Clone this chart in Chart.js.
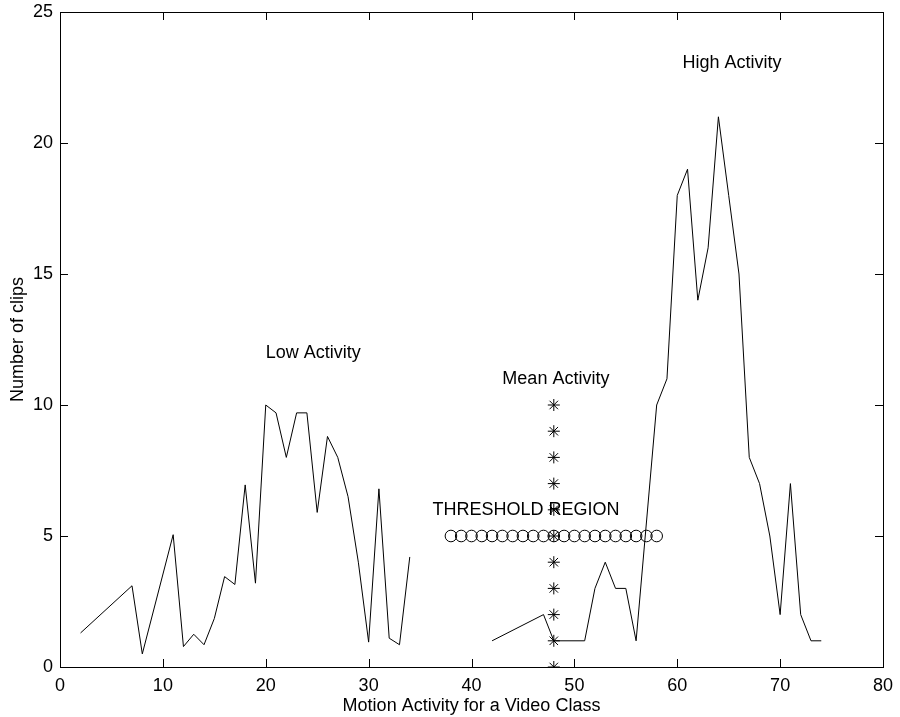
<!DOCTYPE html>
<html>
<head>
<meta charset="utf-8">
<script src="https://cdn.jsdelivr.net/npm/chart.js@4/dist/chart.umd.min.js"></script>
<style>
  html, body { margin: 0; padding: 0; background: #fff; }
  #grafico { display: block; }
</style>
</head>
<body>
<canvas id="grafico" width="900" height="717"></canvas>
<script>
// dados
const lowX = [2, 7, 8, 11, 12, 13, 14, 15, 16, 17, 18, 19, 20, 21, 22, 23, 24, 25, 26, 27, 28, 29, 30, 31, 32, 33, 34];
const lowY = [1.3, 3.1, 0.5, 5.05, 0.78, 1.25, 0.85, 1.85, 3.45, 3.15, 6.95, 3.2, 10, 9.7, 8, 9.7, 9.7, 5.9, 8.8, 8, 6.5, 4, 0.95, 6.8, 1.1, 0.85, 4.2];

const highX = [42, 47, 48, 51, 52, 53, 54, 55, 56, 58, 59, 60, 61, 62, 63, 64, 65, 66, 67, 68, 69, 70, 71, 72, 73, 74];
const highY = [1, 2, 1, 1, 3, 4, 3, 3, 1, 10, 11, 18, 19, 14, 16, 21, 18, 15, 8, 7, 5, 2, 7, 2, 1, 1];

const meanX = [48, 48, 48, 48, 48, 48, 48, 48, 48, 48, 48];
const meanY = [0, 1, 2, 3, 4, 5, 6, 7, 8, 9, 10];

const thresholdX = [38, 39, 40, 41, 42, 43, 44, 45, 46, 47, 48, 49, 50, 51, 52, 53, 54, 55, 56, 57, 58];
const thresholdY = [5, 5, 5, 5, 5, 5, 5, 5, 5, 5, 5, 5, 5, 5, 5, 5, 5, 5, 5, 5, 5];

const xTicks = [0, 10, 20, 30, 40, 50, 60, 70, 80];
const yTicks = [0, 5, 10, 15, 20, 25];

const labels = [
    { text: 'Low Activity', x: 20, y: 12 },
    { text: 'Mean Activity', x: 43, y: 11 },
    { text: 'THRESHOLD REGION', x: 36.2, y: 6 },
    { text: 'High Activity', x: 60.5, y: 23.05 }
];

const FONT = '"Liberation Sans", Arial, Helvetica, sans-serif';

function pontos(xs, ys) {
    return xs.map((x, i) => ({ x: x, y: ys[i] }));
}

// moldura com marcas para dentro e textos
const moldura = {
    id: 'moldura',
    afterDatasetsDraw(chart) {
        const ctx = chart.ctx;
        const a = chart.chartArea;
        const sx = chart.scales.x;
        const sy = chart.scales.y;
        const tick = 8;
        ctx.save();
        ctx.strokeStyle = '#000';
        ctx.lineWidth = 1;
        ctx.beginPath();
        xTicks.forEach(v => {
            const px = Math.round(sx.getPixelForValue(v)) + 0.5;
            ctx.moveTo(px, a.bottom);
            ctx.lineTo(px, a.bottom - tick);
            ctx.moveTo(px, a.top);
            ctx.lineTo(px, a.top + tick);
        });
        yTicks.forEach(v => {
            const py = Math.round(sy.getPixelForValue(v)) + 0.5;
            ctx.moveTo(a.left, py);
            ctx.lineTo(a.left + tick, py);
            ctx.moveTo(a.right, py);
            ctx.lineTo(a.right - tick, py);
        });
        ctx.stroke();
        ctx.strokeRect(Math.round(a.left) + 0.5, Math.round(a.top) + 0.5,
            Math.round(a.right - a.left), Math.round(a.bottom - a.top));

        ctx.fillStyle = '#000';
        ctx.font = '18px ' + FONT;
        ctx.textAlign = 'left';
        ctx.textBaseline = 'middle';
        labels.forEach(l => {
            ctx.fillText(l.text, sx.getPixelForValue(l.x), sy.getPixelForValue(l.y));
        });
        ctx.restore();
    }
};

Chart.defaults.color = '#000';
Chart.defaults.font.family = FONT;
Chart.defaults.font.size = 18;

const ctx = document.getElementById('grafico').getContext('2d');
new Chart(ctx, {
    type: 'scatter',
    data: {
        datasets: [
            {
                label: 'Low Activity',
                data: pontos(lowX, lowY),
                showLine: true,
                borderColor: '#000',
                borderWidth: 1,
                pointRadius: 0,
                tension: 0
            },
            {
                label: 'High Activity',
                data: pontos(highX, highY),
                showLine: true,
                borderColor: '#000',
                borderWidth: 1,
                pointRadius: 0,
                tension: 0
            },
            {
                label: 'Mean Activity',
                data: pontos(meanX, meanY),
                showLine: false,
                pointStyle: 'star',
                pointRadius: 6,
                borderColor: '#000',
                borderWidth: 1,
                clip: 0
            },
            {
                label: 'Threshold Region',
                data: pontos(thresholdX, thresholdY),
                showLine: false,
                pointStyle: 'circle',
                pointRadius: 5.8,
                borderColor: '#000',
                backgroundColor: 'rgba(0,0,0,0)',
                borderWidth: 1
            }
        ]
    },
    options: {
        responsive: false,
        animation: false,
        events: [],
        layout: { padding: { top: 12, right: 17, left: 0, bottom: 0 } },
        plugins: {
            legend: { display: false },
            tooltip: { enabled: false }
        },
        scales: {
            x: {
                type: 'linear',
                min: 0,
                max: 80,
                afterFit: s => { s.height = 50; s.paddingLeft = 0; s.paddingRight = 0; },
                afterBuildTicks: s => { s.ticks = xTicks.map(v => ({ value: v })); },
                ticks: { padding: 8, maxRotation: 0 },
                grid: { display: false, drawTicks: false },
                border: { display: false },
                title: {
                    display: true,
                    text: 'Motion Activity for a Video Class',
                    padding: { top: 0, bottom: 0 }
                }
            },
            y: {
                type: 'linear',
                min: 0,
                max: 25,
                afterFit: s => { s.width = 60; s.paddingTop = 0; s.paddingBottom = 0; },
                afterBuildTicks: s => { s.ticks = yTicks.map(v => ({ value: v })); },
                ticks: { padding: 7 },
                grid: { display: false, drawTicks: false },
                border: { display: false },
                title: {
                    display: true,
                    text: 'Number of clips',
                    padding: { top: 7, bottom: 0 }
                }
            }
        }
    },
    plugins: [moldura]
});
</script>
</body>
</html>
